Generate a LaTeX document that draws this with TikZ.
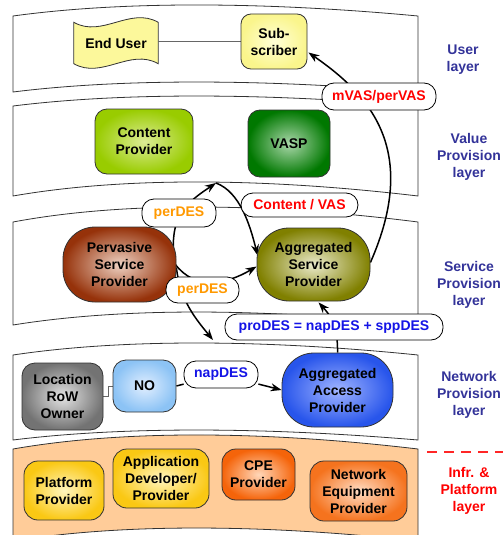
\documentclass[tikz,border=0pt]{standalone}
\usepackage{fontspec}
\setmainfont{Liberation Sans}
\usetikzlibrary{arrows.meta,calc}
\definecolor{layerblue}{RGB}{51,51,153}
\definecolor{perorange}{RGB}{255,153,0}
\definecolor{desblue}{RGB}{20,20,230}
\definecolor{infrafill}{RGB}{255,204,153}
\pgfdeclarelayer{bg}
\pgfdeclarelayer{lines}
\pgfsetlayers{bg,lines,main}
\begin{document}
\begin{tikzpicture}[x=1pt,y=-1pt,
  every node/.style={font=\fontsize{14}{17}\selectfont\bfseries, align=center, inner sep=0pt},
  box/.style={draw=black!80, line width=0.8pt, rounded corners=11pt},
  bigbox/.style={draw=black!80, line width=0.8pt, rounded corners=32pt},
  pill/.style={draw=black, fill=white, line width=0.8pt, rounded corners=12pt},
  band/.style={draw=black!80, line width=0.8pt},
  conn/.style={draw=black, line width=1.5pt, -{Stealth[length=11pt,width=8pt]}},
  grayline/.style={draw=black!60, line width=1pt},
  layerlab/.style={text=layerblue}
]
\useasboundingbox (0,0) rectangle (503,535);
\clip (0,0) rectangle (503,535);

% ---------- layer bands ----------
\begin{pgfonlayer}{bg}
\path[band, fill=white] (13,16) .. controls (120,1.3) and (260,1.3) .. (418,16) -- (418,92) .. controls (260,78.7) and (120,78.7) .. (13,92) -- cycle;
\path[band, fill=white] (13,106) .. controls (120,92.7) and (260,92.7) .. (418,106) -- (418,196) .. controls (260,177.3) and (120,177.3) .. (13,196) -- cycle;
\path[band, fill=white] (13,222) .. controls (120,202) and (260,202) .. (418,222) -- (418,325) .. controls (260,307.7) and (120,307.7) .. (13,325) -- cycle;
\path[band, fill=white] (13,355) .. controls (120,339) and (260,339) .. (418,355) -- (418,440) .. controls (260,426.7) and (120,426.7) .. (13,440) -- cycle;
\path[band, fill=infrafill] (13,449) .. controls (120,430.3) and (260,430.3) .. (418,449) -- (418,541) .. controls (260,523.7) and (120,523.7) .. (13,541) -- cycle;
\end{pgfonlayer}

% ---------- user layer ----------
\node[minimum width=84pt, minimum height=41pt] (eu) at (116,43) {End User};
\node[box, rounded corners=10pt, minimum width=66pt, minimum height=55pt, inner color={rgb,255:red,255;green,255;blue,215}, outer color={rgb,255:red,250;green,245;blue,140}] (sub) at (274,41.5) {Sub-\\scriber};

% ---------- value provision layer ----------
\node[box, rounded corners=12pt, minimum width=98pt, minimum height=65pt, inner color={rgb,255:red,220;green,236;blue,150}, outer color={rgb,255:red,153;green,204;blue,0}] (cp) at (144,141.5) {Content\\Provider};
\node[box, rounded corners=12pt, minimum width=82pt, minimum height=67pt, inner color={rgb,255:red,170;green,215;blue,170}, outer color={rgb,255:red,0;green,120;blue,0}] (vasp) at (289,143.5) {VASP};

% ---------- service provision layer ----------
\node[bigbox, minimum width=113pt, minimum height=75pt, inner color={rgb,255:red,238;green,210;blue,195}, outer color={rgb,255:red,150;green,50;blue,10}] (psp) at (119.5,264.5) {Pervasive\\Service\\Provider};
\node[bigbox, minimum width=113pt, minimum height=73pt, inner color={rgb,255:red,235;green,235;blue,205}, outer color={rgb,255:red,128;green,128;blue,0}] (asp) at (313.5,264.5) {Aggregated\\Service\\Provider};

% ---------- network provision layer ----------
\node[box, rounded corners=13pt, minimum width=81pt, minimum height=67pt, inner color={rgb,255:red,228;green,228;blue,228}, outer color={rgb,255:red,115;green,115;blue,115}] (lro) at (62.5,396.5) {Location\\RoW\\Owner};
\node[box, rounded corners=13pt, minimum width=63pt, minimum height=52pt, inner color={rgb,255:red,225;green,238;blue,255}, outer color={rgb,255:red,140;green,195;blue,245}] (no) at (144.5,386) {NO};
\node[bigbox, minimum width=111pt, minimum height=74pt, inner color={rgb,255:red,160;green,180;blue,255}, outer color={rgb,255:red,40;green,85;blue,235}] (aap) at (337.5,390) {Aggregated\\Access\\Provider};

% ---------- infrastructure & platform layer ----------
\node[box, rounded corners=14pt, minimum width=80pt, minimum height=59pt, inner color={rgb,255:red,255;green,245;blue,190}, outer color={rgb,255:red,250;green,200;blue,20}] (pp) at (64,490.5) {Platform\\Provider};
\node[box, rounded corners=14pt, minimum width=96pt, minimum height=59pt, inner color={rgb,255:red,255;green,245;blue,190}, outer color={rgb,255:red,250;green,200;blue,20}] (adp) at (161,478.5) {Application\\Developer/\\Provider};
\node[box, rounded corners=14pt, minimum width=73pt, minimum height=51pt, inner color={rgb,255:red,255;green,215;blue,185}, outer color={rgb,255:red,245;green,100;blue,10}] (cpe) at (258.5,474.5) {CPE\\Provider};
\node[box, rounded corners=14pt, minimum width=97pt, minimum height=60pt, inner color={rgb,255:red,255;green,220;blue,195}, outer color={rgb,255:red,245;green,115;blue,30}] (nep) at (358.5,491) {Network\\Equipment\\Provider};

% ---------- connector labels ----------
\node[pill, minimum width=114pt, minimum height=27pt, text=red] (mvas) at (379,96.5) {mVAS/perVAS};
\node[pill, minimum width=74pt, minimum height=28pt, text=perorange] (perdesA) at (179,213) {perDES};
\node[pill, minimum width=117pt, minimum height=24pt, text=red] (cvas) at (299.5,205) {Content / VAS};
\node[pill, minimum width=73pt, minimum height=26pt, text=perorange] (perdesB) at (202.5,290) {perDES};
\node[pill, minimum width=218pt, minimum height=26pt, text=desblue] (prodes) at (334,327) {proDES = napDES + sppDES};
\node[pill, minimum width=74pt, minimum height=27pt, text=desblue] (napdes) at (221,374.5) {napDES};

% ---------- layer names ----------
\node[layerlab] (l1) at (463,60) {User\\layer};
\node[layerlab] (l2) at (469,157) {Value\\Provision\\layer};
\node[layerlab] (l3) at (469,285) {Service\\Provision\\layer};
\node[layerlab] (l4) at (469,395) {Network\\Provision\\layer};
\node[text=red] (l5) at (469,491) {Infr. \&\\Platform\\layer};
\draw[red!85, line width=1.3pt, dash pattern=on 10pt off 7pt] (427,452) -- (503,452);

% ---------- connectors ----------
\coordinate (vl) at (216,183);
\coordinate (nl) at (213,340);
\begin{pgfonlayer}{lines}
\path[draw=black!80, line width=0.8pt, fill={rgb,255:red,252;green,248;blue,155}]
  (eu.north west) .. controls ($(eu.north west)+(28,16)$) and ($(eu.north east)+(-28,-16)$) .. (eu.north east)
  -- (eu.south east) .. controls ($(eu.south east)+(-28,-16)$) and ($(eu.south west)+(28,16)$) .. (eu.south west) -- cycle;
\draw[grayline] (sub.west -| eu.east) -- (sub.west);
\draw[grayline] (lro.east) -- ++(5,0) |- (no.west);
\draw[conn] ($(asp.east)+(0,-2)$) .. controls (420,150) and (370,95) .. ($(sub.east)+(1,11)$);
\draw[conn] ($(psp.east)+(-3,-14)$) .. controls (172,215) and (186,203) .. (vl);
\draw[conn] (vl) .. controls (240,192) and (250,225) .. ($(asp.west)+(1,-9)$);
\draw[conn] ($(psp.east)+(-1,0)$) .. controls (195,290) and (225,285) .. ($(asp.west)+(0,2)$);
\draw[conn] ($(psp.east)+(0,3)$) .. controls (180,300) and (195,318) .. (nl);
\draw[conn] (aap.north) .. controls (338,325) and (330,315) .. ($(asp.south)+(5,1)$);
\draw[conn] (no.east) -- (napdes) -- (aap.west);
\end{pgfonlayer}
\end{tikzpicture}
\end{document}
